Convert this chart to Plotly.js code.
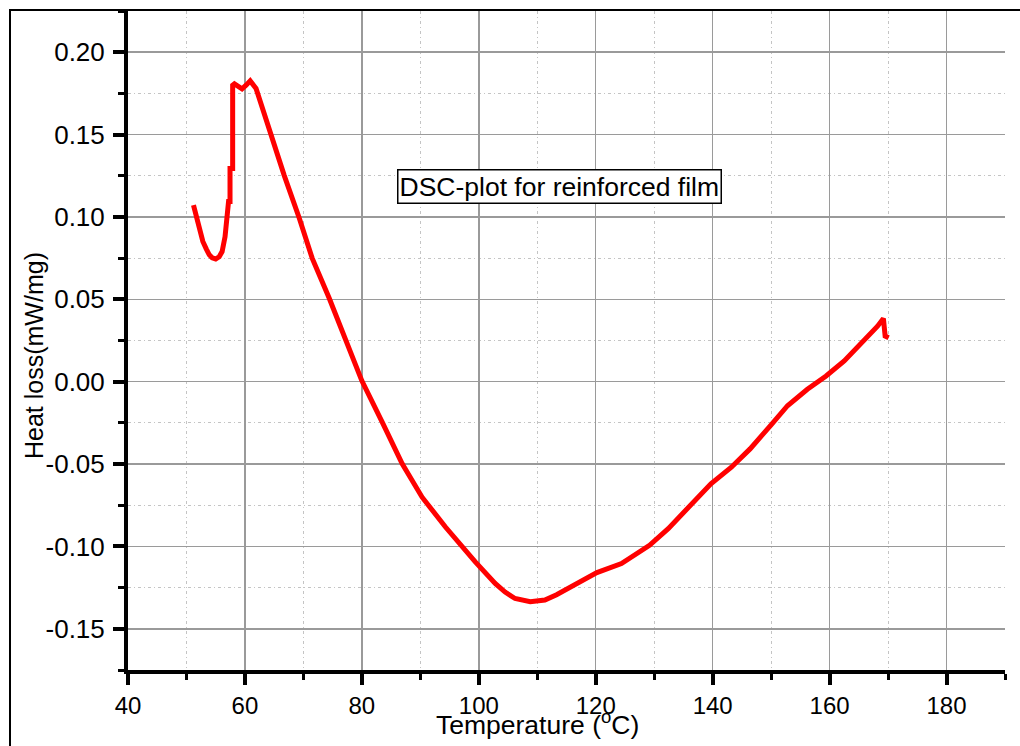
<!DOCTYPE html>
<html>
<head>
<meta charset="utf-8">
<script src="https://cdn.plot.ly/plotly-3.0.1.min.js"></script>
<style>
  html, body { margin: 0; padding: 0; background: #fff; }
  #chart { width: 1020px; height: 746px; }
</style>
</head>
<body>
<div id="chart"></div>
<script>
// Temperature (°C)
const temperature = [51.2, 52.0, 52.8, 53.4, 53.9, 54.4, 55.0, 55.6, 56.1, 56.6, 57.0, 57.2, 57.45, 57.45, 57.9, 57.9, 58.2, 58.8, 59.5, 60.2, 60.9, 61.9,
  64.2, 66.7, 69.3, 71.5, 74.4, 77.2, 80.0, 83.5, 86.9, 90.3, 94.3, 99.4, 102.8, 104.5, 106.2, 108.8, 111.3, 113.3, 115.3, 117.3,
  120.2, 124.4, 127.2, 129.2, 132.4, 135.8, 139.7, 143.2, 146.4, 150.0, 152.8, 156.2, 159.4, 162.5, 165.9, 168.2,
  169.2, 169.5, 170.1];
// Heat loss (mW/mg)
const heatLoss = [0.1071, 0.096, 0.0851, 0.0805, 0.0770, 0.0752, 0.0745, 0.0758, 0.079, 0.088, 0.099, 0.1093, 0.1093, 0.1294, 0.1294, 0.180, 0.1808, 0.179, 0.1778, 0.180, 0.1826, 0.178,
  0.1516, 0.1254, 0.0992, 0.0750, 0.0508, 0.0247, 0.0005, -0.0247, -0.0499, -0.0701, -0.0882, -0.1094, -0.1225, -0.1277, -0.1316, -0.1336, -0.1325, -0.1293, -0.1255, -0.1209,
  -0.1159, -0.1104, -0.1043, -0.0993, -0.0892, -0.0761, -0.0620, -0.0519, -0.0408, -0.0262, -0.0146, -0.0046, 0.0035, 0.0126, 0.0247, 0.0337,
  0.0383, 0.0277, 0.0267];

const yTickVals = [-0.15, -0.10, -0.05, 0.00, 0.05, 0.10, 0.15, 0.20];
const yTickText = ["-0.15", "-0.10", "-0.05", "0.00", "0.05", "0.10", "0.15", "0.20"];
const xTickVals = [40, 60, 80, 100, 120, 140, 160, 180];
const xTickText = ["40", "60", "80", "100", "120", "140", "160", "180"];

const chartTitle = "DSC-plot for reinforced film";
const xTitle = "Temperature (<sup>o</sup>C)";
const yTitle = "Heat loss(mW/mg)";

const W = 1020, H = 746;
const M = { l: 128, r: 15, t: 11, b: 76 };
const pw = W - M.l - M.r, ph = H - M.t - M.b;
const px = v => (v - M.l) / pw;          // page x -> paper x
const py = v => (H - M.b - v) / ph;      // page y -> paper y

const FONT = "Liberation Sans, Arial, sans-serif";

const trace = {
  x: temperature, y: heatLoss, type: "scatter", mode: "lines",
  line: { color: "#ff0000", width: 5 }, hoverinfo: "x+y"
};

const gridMajor = "#9a9a9a";
const gridMinor = "#c4c4c4";

const layout = {
  width: W, height: H,
  margin: M,
  paper_bgcolor: "#ffffff", plot_bgcolor: "#ffffff",
  showlegend: false,
  font: { family: FONT, color: "#000", size: 24 },
  xaxis: {
    range: [40, 190], tickmode: "array", tickvals: xTickVals, ticktext: xTickText,
    showline: true, linecolor: "#000", linewidth: 4,
    ticks: "outside", ticklen: 11, tickwidth: 4, tickcolor: "#000",
    showgrid: true, gridcolor: gridMajor, gridwidth: 1.5,
    zeroline: false,
    tickfont: { family: FONT, size: 24, color: "#000" },
    minor: { tickmode: "linear", tick0: 40, dtick: 10, ticks: "outside", ticklen: 6, tickwidth: 3, tickcolor: "#000",
             showgrid: true, gridcolor: gridMinor, gridwidth: 1, griddash: "3px,3px,1px,3px" }
  },
  yaxis: {
    range: [-0.175, 0.225], tickmode: "array", tickvals: yTickVals, ticktext: yTickText,
    showline: true, linecolor: "#000", linewidth: 4,
    ticks: "outside", ticklen: 11, tickwidth: 4, tickcolor: "#000",
    ticklabelstandoff: 3,
    showgrid: true, gridcolor: gridMajor, gridwidth: 1.5,
    zeroline: false,
    tickfont: { family: FONT, size: 26, color: "#000" },
    minor: { tickmode: "linear", tick0: 0, dtick: 0.025, ticks: "outside", ticklen: 6, tickwidth: 3, tickcolor: "#000",
             showgrid: true, gridcolor: gridMinor, gridwidth: 1, griddash: "3px,3px,1px,3px" }
  },
  annotations: [
    { text: chartTitle, x: 113.86, y: 0.1186, xref: "x", yref: "y", showarrow: false,
      font: { family: FONT, size: 26.5, color: "#000" }, bgcolor: "#fff", bordercolor: "#000", borderwidth: 1.5, borderpad: 1 },
    { text: xTitle, x: px(537), y: py(723), xref: "paper", yref: "paper", showarrow: false,
      xanchor: "center", yanchor: "middle", font: { family: FONT, size: 26.5, color: "#000" } },
    { text: yTitle, x: px(34), y: py(356), xref: "paper", yref: "paper", showarrow: false, textangle: -90,
      xanchor: "center", yanchor: "middle", font: { family: FONT, size: 25, color: "#000" } }
  ],
  shapes: [
    { type: "line", xref: "paper", yref: "paper", x0: px(10), x1: px(10), y0: py(748), y1: py(10),
      line: { color: "#000", width: 2 } },
    { type: "line", xref: "paper", yref: "paper", x0: px(9), x1: px(1022), y0: py(10), y1: py(10),
      line: { color: "#000", width: 2 } }
  ]
};

Plotly.newPlot("chart", [trace], layout, { displayModeBar: false, staticPlot: true });
</script>
</body>
</html>
